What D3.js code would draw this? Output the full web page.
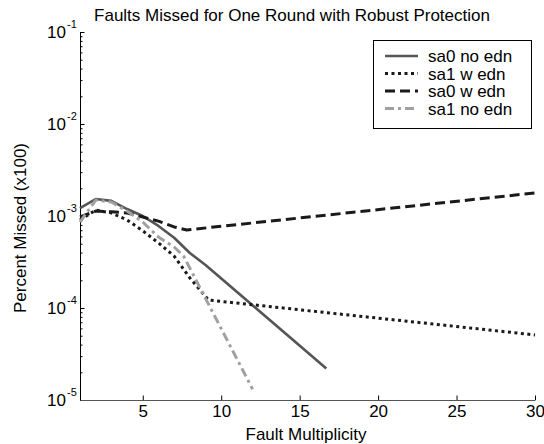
<!DOCTYPE html>
<html>
<head>
<meta charset="utf-8">
<script src="https://cdn.jsdelivr.net/npm/d3@7"></script>
<style>
  body { margin: 0; background: #fff; }
  text { font-family: "Liberation Sans", Arial, sans-serif; fill: #000; }
</style>
</head>
<body>
<svg id="chart" width="544" height="444"></svg>
<script>
// data: [fault multiplicity, fraction missed]
var sa0NoEdn = [[1,1.22e-3],[2,1.53e-3],[3,1.46e-3],[4,1.19e-3],[5,1.0e-3],[6,7.8e-4],[7,5.8e-4],[8,3.96e-4],[9,2.93e-4],[16.7,2.2e-5]];
var sa1WEdn  = [[1,9.05e-4],[2,1.16e-3],[3,1.08e-3],[4,9.05e-4],[5,6.9e-4],[6,5.1e-4],[7,3.67e-4],[8,2.12e-4],[9.2,1.22e-4],[30,5.1e-5]];
var sa0WEdn  = [[1,9.75e-4],[2,1.13e-3],[3,1.11e-3],[4,1.08e-3],[5,9.75e-4],[6,8.8e-4],[7,7.6e-4],[7.8,7.05e-4],[30,1.78e-3]];
var sa1NoEdn = [[1,8.6e-4],[2,1.49e-3],[3,1.42e-3],[4,1.13e-3],[5,8.6e-4],[6,5.9e-4],[7,4.6e-4],[7.6,3.67e-4],[12,1.31e-5]];

var seriesNames = ["sa0 no edn", "sa1 w edn", "sa0 w edn", "sa1 no edn"];
var xTicks = [5, 10, 15, 20, 25, 30];
var yExponents = [-5, -4, -3, -2, -1];

var styles = [
  {color: "#555555", width: 2.6, dash: null},
  {color: "#1a1a1a", width: 3, dash: "3,3.5"},
  {color: "#1a1a1a", width: 3, dash: "10,5"},
  {color: "#a0a0a0", width: 3, dash: "9,4,3,4"}
];

var svg = d3.select("#chart");
var mLeft = 80, mRight = 535, mTop = 32, mBottom = 400;

var x = d3.scaleLinear().domain([1, 30]).range([mLeft, mRight]);
var y = d3.scaleLog().domain([1e-5, 1e-1]).range([mBottom, mTop]);

// minor y ticks
var minor = [];
yExponents.slice(0, -1).forEach(function(e) {
  for (var m = 2; m <= 9; m++) minor.push(m * Math.pow(10, e));
});
svg.append("g")
  .attr("transform", "translate(" + mLeft + ",0)")
  .call(d3.axisLeft(y).tickValues(minor).tickSizeInner(-2.5).tickSizeOuter(0).tickFormat(""))
  .call(g => g.select(".domain").remove());

var yAxis = svg.append("g")
  .attr("transform", "translate(" + mLeft + ",0)")
  .call(d3.axisLeft(y).tickValues(yExponents.map(e => Math.pow(10, e)))
    .tickSizeInner(-4.5).tickSizeOuter(0).tickFormat(""));
yAxis.select(".domain").attr("stroke", "#000");

// log labels as 10 with a raised exponent
yExponents.forEach(function(e) {
  var ty = y(Math.pow(10, e));
  svg.append("text")
    .attr("x", 66).attr("y", ty + 6)
    .attr("text-anchor", "end")
    .style("font-size", "17px")
    .text("10");
  svg.append("text")
    .attr("x", 67).attr("y", ty - 4)
    .style("font-size", "11px")
    .text(e);
});

var xAxis = svg.append("g")
  .attr("transform", "translate(0," + mBottom + ")")
  .call(d3.axisBottom(x).tickValues(xTicks).tickSizeInner(-4.5).tickSizeOuter(0).tickPadding(5));
xAxis.selectAll("text").style("font-size", "17px").attr("fill", "#000")
  .style("font-family", "Liberation Sans, Arial, sans-serif");
xAxis.select(".domain").attr("stroke", "#555");

// lines
var line = d3.line().x(d => x(d[0])).y(d => y(d[1]));
var allData = [sa0NoEdn, sa1WEdn, sa0WEdn, sa1NoEdn];
allData.forEach(function(data, i) {
  svg.append("path")
    .datum(data)
    .attr("fill", "none")
    .attr("stroke", styles[i].color)
    .attr("stroke-width", styles[i].width)
    .attr("stroke-dasharray", styles[i].dash)
    .attr("stroke-linejoin", "round")
    .attr("d", line);
});

// title and axis labels
svg.append("text")
  .attr("x", 292).attr("y", 21)
  .attr("text-anchor", "middle")
  .style("font-size", "17px")
  .text("Faults Missed for One Round with Robust Protection");

svg.append("text")
  .attr("x", 306).attr("y", 440)
  .attr("text-anchor", "middle")
  .style("font-size", "17px")
  .text("Fault Multiplicity");

svg.append("text")
  .attr("transform", "translate(26,228) rotate(-90)")
  .attr("text-anchor", "middle")
  .style("font-size", "17px")
  .text("Percent Missed (x100)");

// legend
var legend = svg.append("g");
legend.append("rect")
  .attr("x", 373.5).attr("y", 40.5).attr("width", 158).attr("height", 88)
  .attr("fill", "#fff").attr("stroke", "#000").attr("stroke-width", 1);
seriesNames.forEach(function(name, i) {
  var ry = 56 + i * 17.5;
  legend.append("line")
    .attr("x1", 385).attr("x2", 418).attr("y1", ry).attr("y2", ry)
    .attr("stroke", styles[i].color)
    .attr("stroke-width", styles[i].width)
    .attr("stroke-dasharray", styles[i].dash);
  legend.append("text")
    .attr("x", 428).attr("y", ry + 6)
    .style("font-size", "17px")
    .text(name);
});
</script>
</body>
</html>
